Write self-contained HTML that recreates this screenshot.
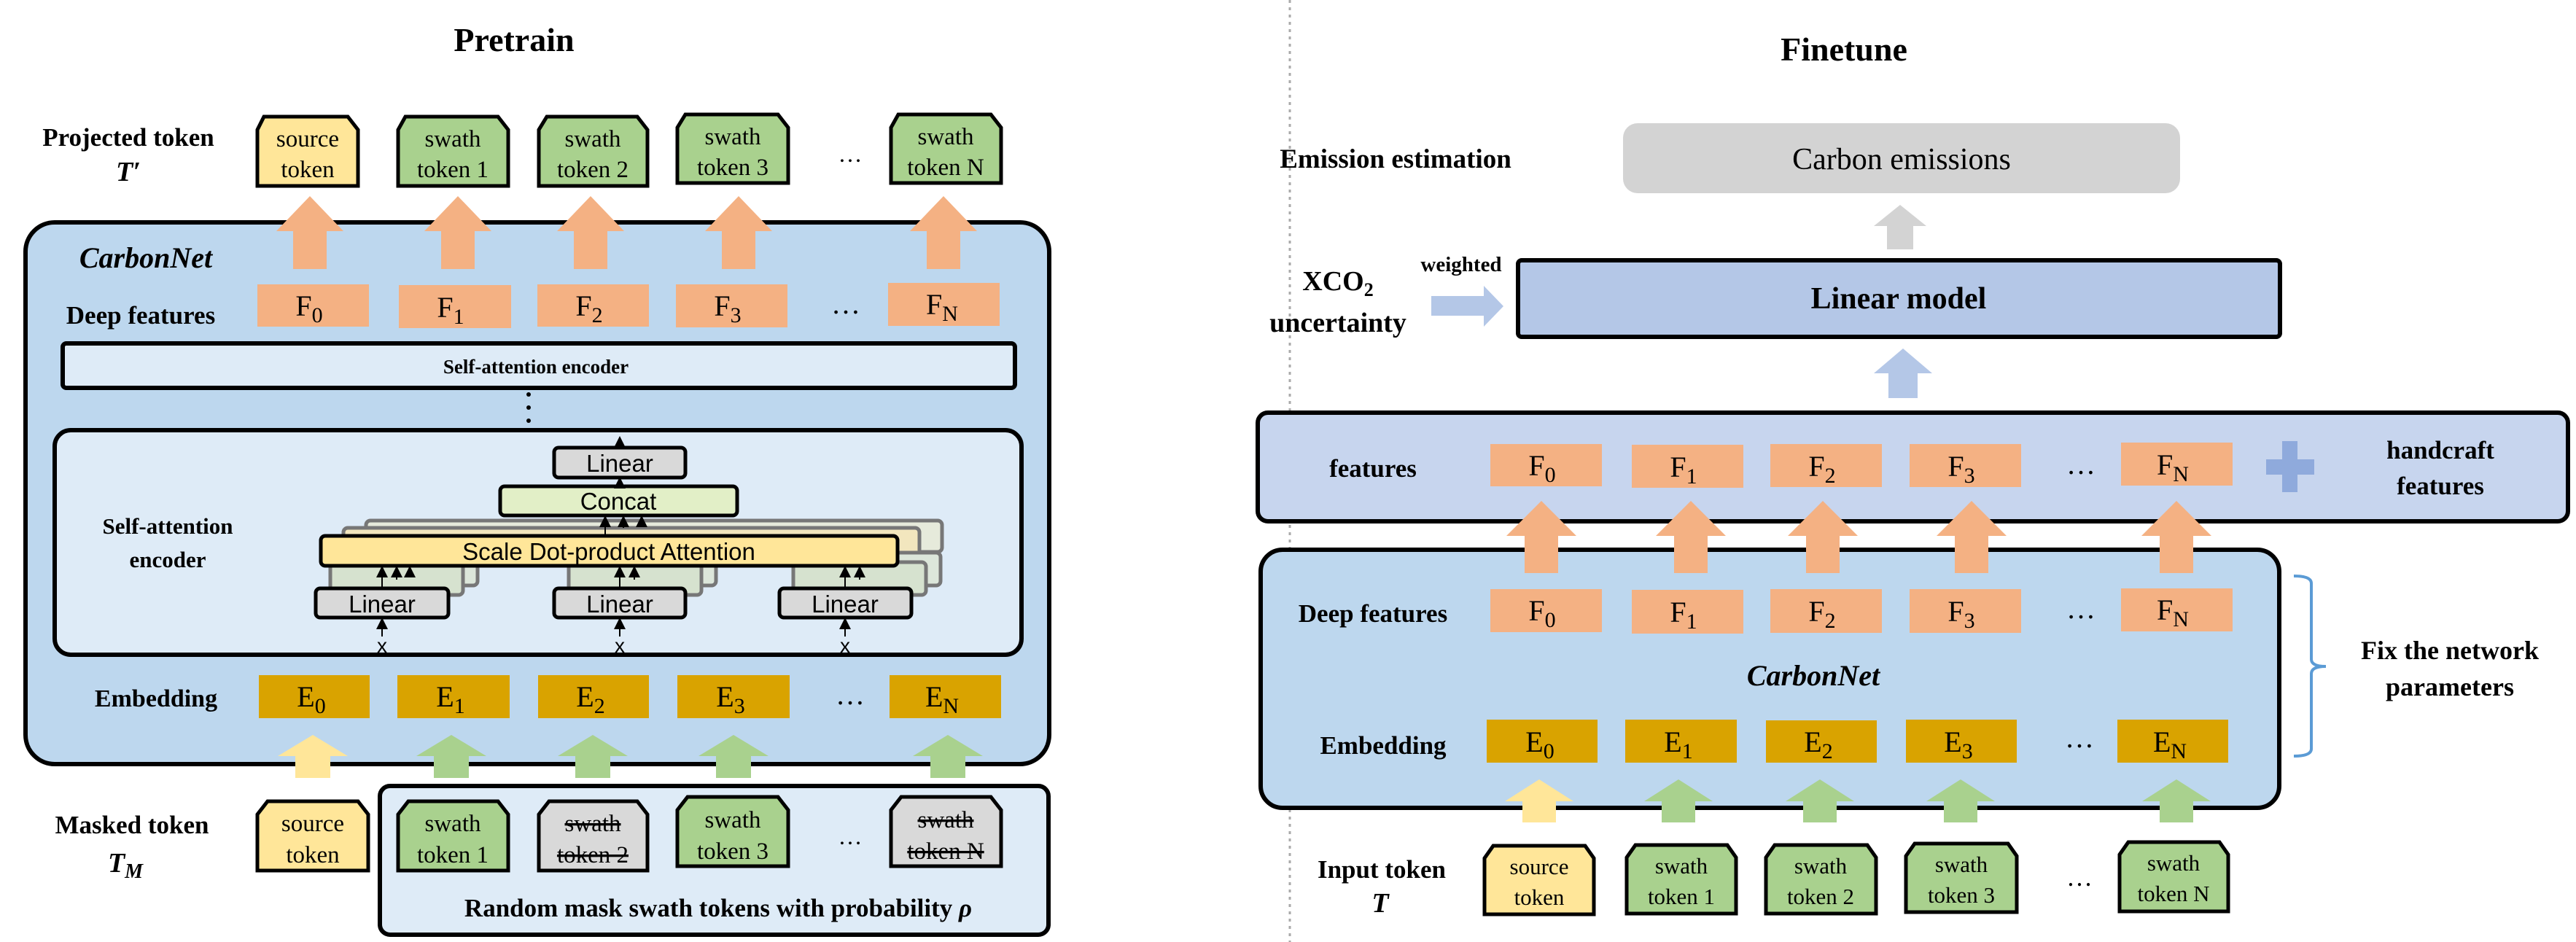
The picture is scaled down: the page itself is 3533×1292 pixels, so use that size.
<!DOCTYPE html>
<html><head><meta charset="utf-8"><style>
html,body{margin:0;padding:0;background:#fff;}
svg{display:block;}
.t{font-family:"Liberation Serif",serif;font-weight:bold;fill:#000;}
.n{font-family:"Liberation Serif",serif;fill:#000;}
.s{font-family:"Liberation Sans",sans-serif;fill:#000;}
</style></head><body>
<svg width="3533" height="1292" viewBox="0 0 3533 1292" xmlns="http://www.w3.org/2000/svg">
<defs>
<marker id="ah" markerWidth="8" markerHeight="8" refX="7" refY="4" orient="auto" markerUnits="strokeWidth"><path d="M0,0 L8,4 L0,8 z" fill="#000"/></marker>
</defs>
<line x1="1769" y1="0" x2="1769" y2="1292" stroke="#aaa" stroke-width="3" stroke-dasharray="4,6"/>

<!-- ===== PRETRAIN ===== -->
<text class="t" x="705" y="70" font-size="46" text-anchor="middle">Pretrain</text>
<text class="t" x="176" y="200" font-size="35" text-anchor="middle">Projected token</text>
<text class="t" x="176" y="248" font-size="38" text-anchor="middle" font-style="italic">T′</text>

<g stroke="#000" stroke-width="5">
<polygon points="362,160 477,160 491,178 491,255 353,255 353,178" fill="#FFE699"/>
<polygon points="556,160 683,160 697,178 697,255 546,255 546,178" fill="#A9D18E"/>
<polygon points="750,160 874,160 888,178 888,255 739,255 739,178" fill="#A9D18E"/>
<polygon points="940,157 1067,157 1081,175 1081,251 929,251 929,175" fill="#A9D18E"/>
<polygon points="1232,157 1359,157 1373,175 1373,251 1222,251 1222,175" fill="#A9D18E"/>
</g>
<g class="n" font-size="33" text-anchor="middle">
<text x="422" y="201">source</text><text x="422" y="243">token</text>
<text x="621" y="201">swath</text><text x="621" y="243">token 1</text>
<text x="813" y="201">swath</text><text x="813" y="243">token 2</text>
<text x="1005" y="198">swath</text><text x="1005" y="240">token 3</text>
<text x="1297" y="198">swath</text><text x="1297" y="240">token N</text>
<text x="1166" y="222">…</text>
</g>

<rect x="35" y="305" width="1404" height="743" rx="40" fill="#BDD7EE" stroke="#000" stroke-width="6"/>
<g fill="#F4B183">
<polygon points="425,269 471,317 448,317 448,369 402,369 402,317 379,317"/>
<polygon points="628,269 674,317 651,317 651,369 605,369 605,317 582,317"/>
<polygon points="810,269 856,317 833,317 833,369 787,369 787,317 764,317"/>
<polygon points="1013,269 1059,317 1036,317 1036,369 990,369 990,317 967,317"/>
<polygon points="1294,269 1340,317 1317,317 1317,369 1271,369 1271,317 1248,317"/>
</g>
<text class="t" x="200" y="367" font-size="40" text-anchor="middle" font-style="italic">CarbonNet</text>
<text class="t" x="193" y="444" font-size="35" text-anchor="middle">Deep features</text>
<g fill="#F4B183">
<rect x="353" y="390" width="153" height="58"/><rect x="547" y="391" width="154" height="59"/>
<rect x="737" y="390" width="153" height="58"/><rect x="927" y="390" width="153" height="59"/>
<rect x="1218" y="388" width="153" height="59"/>
</g>
<g class="n" font-size="40" text-anchor="middle">
<text x="424" y="433">F<tspan font-size="30" dy="9">0</tspan></text>
<text x="618" y="435">F<tspan font-size="30" dy="9">1</tspan></text>
<text x="808" y="433">F<tspan font-size="30" dy="9">2</tspan></text>
<text x="998" y="433">F<tspan font-size="30" dy="9">3</tspan></text>
<text x="1292" y="431">F<tspan font-size="30" dy="9">N</tspan></text>
<text x="1160" y="430">…</text>
</g>
<rect x="86" y="471" width="1306" height="61" rx="5" fill="#DEEBF7" stroke="#000" stroke-width="6"/>
<text class="t" x="735" y="512" font-size="27" text-anchor="middle">Self-attention encoder</text>
<g fill="#000"><circle cx="725" cy="541" r="3"/><circle cx="725" cy="559" r="3"/><circle cx="725" cy="577" r="3"/></g>

<rect x="75" y="590" width="1326" height="308" rx="22" fill="#DEEBF7" stroke="#000" stroke-width="6"/>
<text class="t" x="230" y="732" font-size="31" text-anchor="middle">Self-attention</text>
<text class="t" x="230" y="778" font-size="31" text-anchor="middle">encoder</text>
<g stroke="#777" stroke-width="5" fill="#E6EADB">
<rect x="502" y="714" width="790" height="43" rx="6"/>
<rect x="471" y="724" width="790" height="43" rx="6" fill="#F2E6BE"/>
<rect x="473" y="758" width="182" height="45" rx="6" fill="#DCE6DA"/>
<rect x="800" y="758" width="182" height="45" rx="6" fill="#DCE6DA"/>
<rect x="1108" y="758" width="182" height="45" rx="6" fill="#DCE6DA"/>
<rect x="453" y="771" width="182" height="45" rx="6" fill="#D6E2CF"/>
<rect x="780" y="771" width="182" height="45" rx="6" fill="#D6E2CF"/>
<rect x="1088" y="771" width="182" height="45" rx="6" fill="#D6E2CF"/>
</g>
<g stroke="#000" stroke-width="5">
<rect x="440" y="735" width="791" height="41" rx="6" fill="#FFE699"/>
<rect x="686" y="667" width="325" height="40" rx="6" fill="#E2EFC7"/>
<rect x="760" y="614" width="180" height="41" rx="6" fill="#D9D9D9"/>
<rect x="433" y="807" width="182" height="40" rx="6" fill="#D9D9D9"/>
<rect x="760" y="807" width="180" height="40" rx="6" fill="#D9D9D9"/>
<rect x="1069" y="807" width="181" height="40" rx="6" fill="#D9D9D9"/>
</g>
<g class="s" text-anchor="middle">
<text x="850" y="647" font-size="33">Linear</text>
<text x="848" y="699" font-size="33">Concat</text>
<text x="835" y="768" font-size="33">Scale Dot-product Attention</text>
<text x="524" y="840" font-size="33">Linear</text>
<text x="850" y="840" font-size="33">Linear</text>
<text x="1159" y="840" font-size="33">Linear</text>
<text x="524" y="895" font-size="28">x</text>
<text x="850" y="895" font-size="28">x</text>
<text x="1159" y="895" font-size="28">x</text>
</g>
<g stroke="#000" stroke-width="2" marker-end="url(#ah)">
<line x1="850" y1="614" x2="850" y2="600"/>
<line x1="850" y1="667" x2="850" y2="656"/>
<line x1="830" y1="735" x2="830" y2="709"/><line x1="855" y1="724" x2="855" y2="709"/><line x1="880" y1="716" x2="880" y2="709"/>
<line x1="524" y1="807" x2="524" y2="778"/><line x1="544" y1="795" x2="544" y2="778"/><line x1="562" y1="786" x2="562" y2="778"/>
<line x1="850" y1="807" x2="850" y2="778"/><line x1="870" y1="795" x2="870" y2="778"/>
<line x1="1159" y1="807" x2="1159" y2="778"/><line x1="1179" y1="795" x2="1179" y2="778"/>
<line x1="524" y1="873" x2="524" y2="849"/><line x1="850" y1="873" x2="850" y2="849"/><line x1="1159" y1="873" x2="1159" y2="849"/>
</g>

<text class="t" x="214" y="969" font-size="34" text-anchor="middle">Embedding</text>
<g fill="#D9A300">
<rect x="355" y="926" width="152" height="59"/><rect x="545" y="926" width="154" height="59"/>
<rect x="738" y="926" width="152" height="59"/><rect x="929" y="926" width="154" height="59"/>
<rect x="1220" y="926" width="153" height="59"/>
</g>
<g class="n" font-size="40" text-anchor="middle">
<text x="427" y="969">E<tspan font-size="30" dy="9">0</tspan></text>
<text x="618" y="969">E<tspan font-size="30" dy="9">1</tspan></text>
<text x="810" y="969">E<tspan font-size="30" dy="9">2</tspan></text>
<text x="1002" y="969">E<tspan font-size="30" dy="9">3</tspan></text>
<text x="1292" y="969">E<tspan font-size="30" dy="9">N</tspan></text>
<text x="1166" y="966">…</text>
</g>
<polygon points="429,1008 477,1037 453,1037 453,1067 405,1067 405,1037 381,1037" fill="#FFE699"/>
<g fill="#A9D18E">
<polygon points="619,1008 667,1037 643,1037 643,1067 595,1067 595,1037 571,1037"/>
<polygon points="813,1008 861,1037 837,1037 837,1067 789,1067 789,1037 765,1037"/>
<polygon points="1006,1008 1054,1037 1030,1037 1030,1067 982,1067 982,1037 958,1037"/>
<polygon points="1300,1008 1348,1037 1324,1037 1324,1067 1276,1067 1276,1037 1252,1037"/>
</g>

<text class="t" x="181" y="1143" font-size="35" text-anchor="middle">Masked token</text>
<text class="t" x="172" y="1196" font-size="38" text-anchor="middle" font-style="italic">T<tspan font-size="28" dy="8">M</tspan></text>
<rect x="521" y="1078" width="917" height="204" rx="14" fill="#DEEBF7" stroke="#000" stroke-width="6"/>
<g stroke="#000" stroke-width="5">
<polygon points="367,1099 491,1099 505,1117 505,1194 353,1194 353,1117" fill="#FFE699"/>
<polygon points="560,1099 683,1099 697,1117 697,1194 546,1194 546,1117" fill="#A9D18E"/>
<polygon points="753,1099 874,1099 888,1117 888,1194 739,1194 739,1117" fill="#D9D9D9"/>
<polygon points="943,1093 1067,1093 1081,1111 1081,1188 929,1188 929,1111" fill="#A9D18E"/>
<polygon points="1236,1093 1359,1093 1373,1111 1373,1188 1222,1188 1222,1111" fill="#D9D9D9"/>
</g>
<g class="n" font-size="33" text-anchor="middle">
<text x="429" y="1140">source</text><text x="429" y="1183">token</text>
<text x="621" y="1140">swath</text><text x="621" y="1183">token 1</text>
<text x="813" y="1140" text-decoration="line-through">swath</text><text x="813" y="1183" text-decoration="line-through">token 2</text>
<text x="1005" y="1135">swath</text><text x="1005" y="1178">token 3</text>
<text x="1297" y="1135" text-decoration="line-through">swath</text><text x="1297" y="1178" text-decoration="line-through">token N</text>
<text x="1166" y="1158">…</text>
</g>
<text class="t" x="985" y="1257" font-size="35" text-anchor="middle">Random mask swath tokens with probability <tspan font-style="italic">ρ</tspan></text>

<!-- ===== FINETUNE ===== -->
<text class="t" x="2529" y="83" font-size="46" text-anchor="middle">Finetune</text>
<text class="t" x="1914" y="230" font-size="37" text-anchor="middle">Emission estimation</text>
<rect x="2226" y="169" width="764" height="96" rx="20" fill="#D3D3D3"/>
<text class="n" x="2608" y="232" font-size="42" text-anchor="middle">Carbon emissions</text>
<polygon points="2606,281 2642,310 2624,310 2624,342 2588,342 2588,310 2570,310" fill="#D3D3D3"/>

<rect x="2082" y="357" width="1045" height="105" rx="5" fill="#B4C7E7" stroke="#000" stroke-width="6"/>
<text class="t" x="2604" y="423" font-size="42" text-anchor="middle">Linear model</text>
<text class="t" x="1835" y="398" font-size="38" text-anchor="middle">XCO<tspan font-size="26" dy="8">2</tspan></text>
<text class="t" x="1835" y="455" font-size="38" text-anchor="middle">uncertainty</text>
<text class="t" x="2004" y="372" font-size="29" text-anchor="middle">weighted</text>
<polygon points="1963,406 2035,406 2035,392 2062,420 2035,448 2035,433 1963,433" fill="#B4C7E7"/>
<polygon points="2610,478 2650,512 2630,512 2630,546 2590,546 2590,512 2570,512" fill="#B4C7E7"/>

<rect x="1725" y="566" width="1797" height="149" rx="14" fill="#C7D5EE" stroke="#000" stroke-width="6"/>
<text class="t" x="1883" y="654" font-size="35" text-anchor="middle">features</text>
<g fill="#F4B183">
<rect x="2044" y="609" width="153" height="58"/><rect x="2238" y="610" width="153" height="59"/>
<rect x="2428" y="609" width="153" height="59"/><rect x="2619" y="609" width="153" height="59"/>
<rect x="2909" y="607" width="153" height="59"/>
</g>
<g class="n" font-size="40" text-anchor="middle">
<text x="2115" y="652">F<tspan font-size="30" dy="9">0</tspan></text>
<text x="2309" y="654">F<tspan font-size="30" dy="9">1</tspan></text>
<text x="2499" y="653">F<tspan font-size="30" dy="9">2</tspan></text>
<text x="2690" y="653">F<tspan font-size="30" dy="9">3</tspan></text>
<text x="2980" y="651">F<tspan font-size="30" dy="9">N</tspan></text>
<text x="2854" y="650">…</text>
</g>
<g fill="#8FAADC"><rect x="3130" y="605" width="21" height="70"/><rect x="3108" y="630" width="66" height="21"/></g>
<text class="t" x="3347" y="629" font-size="35" text-anchor="middle">handcraft</text>
<text class="t" x="3347" y="678" font-size="35" text-anchor="middle">features</text>

<rect x="1729" y="754" width="1397" height="354" rx="30" fill="#BDD7EE" stroke="#000" stroke-width="6"/>
<g fill="#F4B183">
<polygon points="2114,687 2162,735 2137,735 2137,786 2091,786 2091,735 2066,735"/>
<polygon points="2319,687 2367,735 2342,735 2342,786 2296,786 2296,735 2271,735"/>
<polygon points="2500,687 2548,735 2523,735 2523,786 2477,786 2477,735 2452,735"/>
<polygon points="2704,687 2752,735 2727,735 2727,786 2681,786 2681,735 2656,735"/>
<polygon points="2985,687 3033,735 3008,735 3008,786 2962,786 2962,735 2937,735"/>
</g>
<text class="t" x="1883" y="853" font-size="35" text-anchor="middle">Deep features</text>
<g fill="#F4B183">
<rect x="2044" y="808" width="153" height="59"/><rect x="2238" y="809" width="153" height="60"/>
<rect x="2428" y="808" width="153" height="60"/><rect x="2619" y="808" width="153" height="60"/>
<rect x="2909" y="807" width="153" height="59"/>
</g>
<g class="n" font-size="40" text-anchor="middle">
<text x="2115" y="851">F<tspan font-size="30" dy="9">0</tspan></text>
<text x="2309" y="853">F<tspan font-size="30" dy="9">1</tspan></text>
<text x="2499" y="852">F<tspan font-size="30" dy="9">2</tspan></text>
<text x="2690" y="852">F<tspan font-size="30" dy="9">3</tspan></text>
<text x="2980" y="850">F<tspan font-size="30" dy="9">N</tspan></text>
<text x="2854" y="848">…</text>
</g>
<text class="t" x="2487" y="940" font-size="40" text-anchor="middle" font-style="italic">CarbonNet</text>
<text class="t" x="1897" y="1034" font-size="35" text-anchor="middle">Embedding</text>
<g fill="#D9A300">
<rect x="2039" y="987" width="152" height="59"/><rect x="2229" y="987" width="153" height="59"/>
<rect x="2422" y="988" width="152" height="58"/><rect x="2614" y="987" width="152" height="59"/>
<rect x="2904" y="987" width="152" height="59"/>
</g>
<g class="n" font-size="40" text-anchor="middle">
<text x="2112" y="1031">E<tspan font-size="30" dy="9">0</tspan></text>
<text x="2302" y="1031">E<tspan font-size="30" dy="9">1</tspan></text>
<text x="2494" y="1031">E<tspan font-size="30" dy="9">2</tspan></text>
<text x="2686" y="1031">E<tspan font-size="30" dy="9">3</tspan></text>
<text x="2976" y="1031">E<tspan font-size="30" dy="9">N</tspan></text>
<text x="2852" y="1025">…</text>
</g>
<polygon points="2111,1069 2158,1099 2134,1099 2134,1128 2088,1128 2088,1099 2064,1099" fill="#FFE699"/>
<g fill="#A9D18E">
<polygon points="2302,1069 2349,1099 2325,1099 2325,1128 2279,1128 2279,1099 2255,1099"/>
<polygon points="2496,1069 2543,1099 2519,1099 2519,1128 2473,1128 2473,1099 2449,1099"/>
<polygon points="2689,1069 2736,1099 2712,1099 2712,1128 2666,1128 2666,1099 2642,1099"/>
<polygon points="2985,1069 3032,1099 3008,1099 3008,1128 2962,1128 2962,1099 2938,1099"/>
</g>
<path d="M3146,790 Q3170,790 3170,800 L3170,904 Q3170,914 3190,914 Q3170,914 3170,924 L3170,1027 Q3170,1037 3146,1037" fill="none" stroke="#5B9BD5" stroke-width="4"/>
<text class="t" x="3360" y="904" font-size="36" text-anchor="middle">Fix the network</text>
<text class="t" x="3360" y="954" font-size="36" text-anchor="middle">parameters</text>

<text class="t" x="1895" y="1204" font-size="35" text-anchor="middle">Input token</text>
<text class="t" x="1893" y="1251" font-size="38" text-anchor="middle" font-style="italic">T</text>
<g stroke="#000" stroke-width="5">
<polygon points="2048,1160 2174,1160 2186,1177 2186,1254 2036,1254 2036,1177" fill="#FFE699"/>
<polygon points="2243,1159 2369,1159 2381,1176 2381,1253 2231,1253 2231,1176" fill="#A9D18E"/>
<polygon points="2434,1159 2561,1159 2573,1176 2573,1253 2422,1253 2422,1176" fill="#A9D18E"/>
<polygon points="2626,1157 2754,1157 2766,1174 2766,1251 2614,1251 2614,1174" fill="#A9D18E"/>
<polygon points="2919,1155 3044,1155 3056,1172 3056,1250 2907,1250 2907,1172" fill="#A9D18E"/>
</g>
<g class="n" font-size="31" text-anchor="middle">
<text x="2111" y="1199">source</text><text x="2111" y="1241">token</text>
<text x="2306" y="1198">swath</text><text x="2306" y="1240">token 1</text>
<text x="2497" y="1198">swath</text><text x="2497" y="1240">token 2</text>
<text x="2690" y="1196">swath</text><text x="2690" y="1238">token 3</text>
<text x="2981" y="1194">swath</text><text x="2981" y="1236">token N</text>
<text x="2852" y="1215" font-size="36">…</text>
</g>
</svg>
</body></html>
